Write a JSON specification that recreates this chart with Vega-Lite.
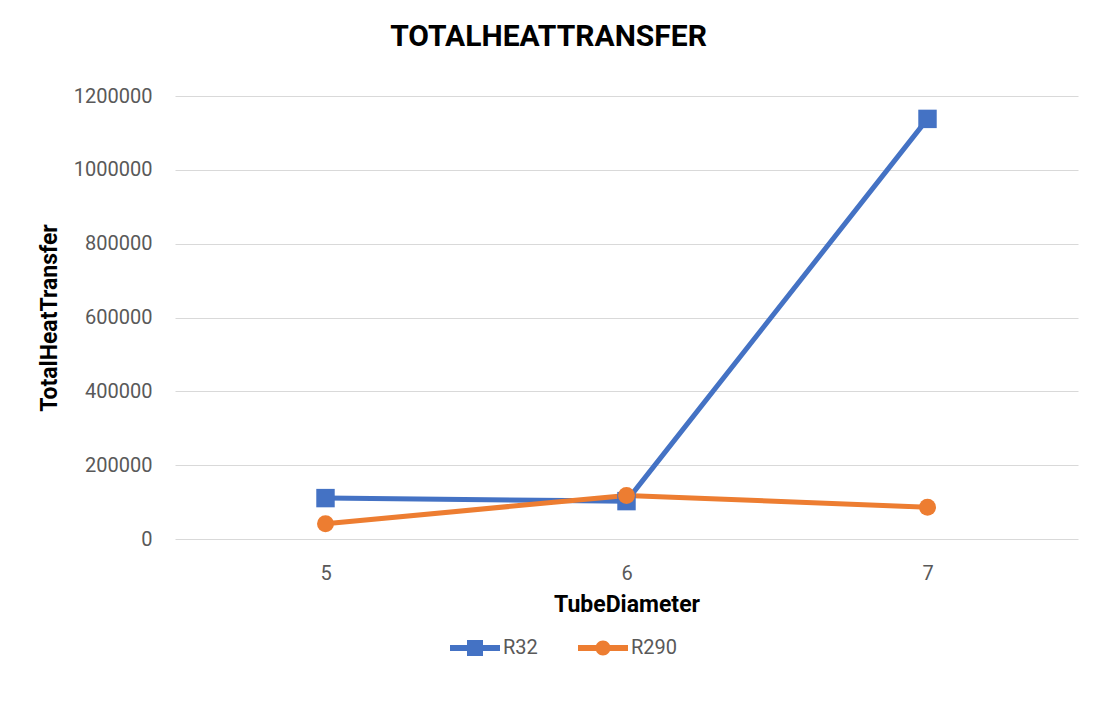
{
  "$schema": "https://vega.github.io/schema/vega-lite/v6.json",
  "width": 903,
  "height": 443,
  "autosize": {"type": "none"},
  "padding": {"left": 175, "top": 96, "right": 34, "bottom": 170},
  "background": "white",
  "config": {
    "view": {"stroke": null},
    "font": "Roboto"
  },
  "title": {
    "text": "TOTALHEATTRANSFER",
    "fontSize": 30,
    "fontWeight": "bold",
    "font": "Roboto",
    "color": "#000000",
    "anchor": "middle",
    "dx": -78,
    "offset": 34
  },
  "data": {
    "values": [
      {"TubeDiameter": "5", "series": "R32", "value": 110800},
      {"TubeDiameter": "6", "series": "R32", "value": 102600},
      {"TubeDiameter": "7", "series": "R32", "value": 1138000},
      {"TubeDiameter": "5", "series": "R290", "value": 41300},
      {"TubeDiameter": "6", "series": "R290", "value": 118100},
      {"TubeDiameter": "7", "series": "R290", "value": 86300}
    ]
  },
  "encoding": {
    "x": {
      "field": "TubeDiameter",
      "type": "ordinal",
      "sort": ["5", "6", "7"],
      "scale": {"type": "point", "padding": 0.5},
      "axis": {
        "title": "TubeDiameter",
        "titleFontSize": 23,
        "titleFontWeight": "bold",
        "titleColor": "#000000",
        "titlePadding": 10,
        "labelAngle": 0,
        "labelFontSize": 20,
        "labelColor": "#595959",
        "labelPadding": 24,
        "ticks": false,
        "tickSize": 0,
        "domain": false,
        "grid": false
      }
    },
    "y": {
      "field": "value",
      "type": "quantitative",
      "scale": {"domain": [0, 1200000], "nice": false},
      "axis": {
        "title": "TotalHeatTransfer",
        "titleFontSize": 23,
        "titleFontWeight": "bold",
        "titleColor": "#000000",
        "titlePadding": 12,
        "values": [0, 200000, 400000, 600000, 800000, 1000000, 1200000],
        "format": "d",
        "labelFontSize": 20,
        "labelColor": "#595959",
        "labelPadding": 23,
        "ticks": false,
        "tickSize": 0,
        "domain": false,
        "grid": true,
        "gridColor": "#d9d9d9",
        "gridWidth": 1
      }
    },
    "color": {
      "field": "series",
      "type": "nominal",
      "scale": {"domain": ["R32", "R290"], "range": ["#4472C4", "#ED7D31"]},
      "legend": {
        "title": null,
        "orient": "none",
        "direction": "horizontal",
        "legendX": 275,
        "legendY": 527,
        "symbolSize": 2500,
        "symbolStrokeWidth": 0,
        "labelFontSize": 20,
        "labelColor": "#595959",
        "labelOffset": 3,
        "columnPadding": 40,
        "encode": {
          "symbols": {
            "update": {
              "shape": {"signal": "datum.value === 'R32' ? 'M-1,-0.12L1,-0.12L1,0.12L-1,0.12Z M-0.32,-0.32L0.32,-0.32L0.32,0.32L-0.32,0.32Z' : 'M-1,-0.12L1,-0.12L1,0.12L-1,0.12Z M-0.3,0A0.3,0.3 0 1,1 0.3,0A0.3,0.3 0 1,1 -0.3,0Z'"},
              "fill": {"scale": "color", "field": "value"},
              "fillOpacity": {"value": 1},
              "strokeWidth": {"value": 0},
              "size": {"value": 2500}
            }
          }
        }
      }
    }
  },
  "layer": [
    {
      "mark": {"type": "line", "strokeWidth": 5},
      "encoding": {}
    },
    {
      "transform": [{"filter": "datum.series === 'R32'"}],
      "mark": {"type": "point", "filled": true, "opacity": 1, "strokeWidth": 0, "shape": "square", "size": 340},
      "encoding": {}
    },
    {
      "transform": [{"filter": "datum.series === 'R290'"}],
      "mark": {"type": "point", "filled": true, "opacity": 1, "strokeWidth": 0, "shape": "circle", "size": 289},
      "encoding": {}
    }
  ]
}
